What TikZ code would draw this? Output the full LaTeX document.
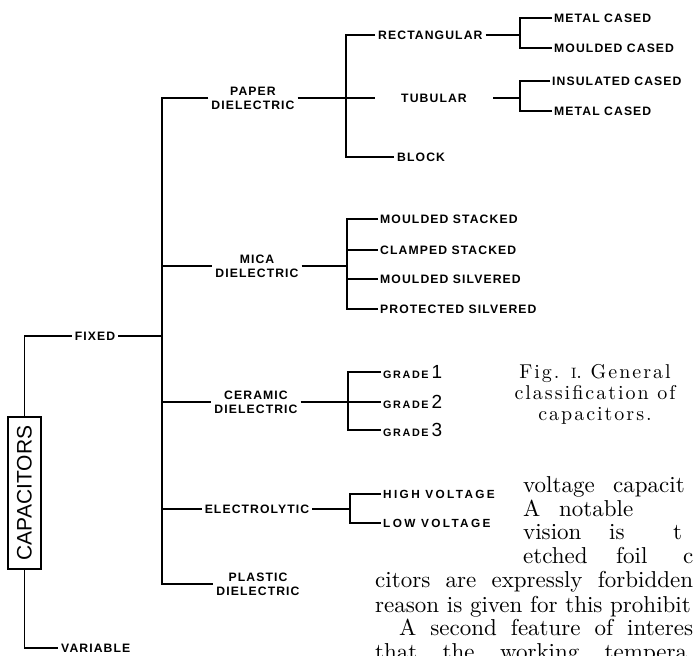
\documentclass[tikz,border=0pt]{standalone}
\usepackage{fontspec}
\usepackage{tikz}
\usetikzlibrary{positioning, calc}
\newfontfamily\diafont[LetterSpace=9]{Liberation Sans}
\newfontfamily\gradefont[LetterSpace=15]{Liberation Sans}
\newfontfamily\voltfont[LetterSpace=20]{Liberation Sans}
\newfontfamily\plainsans{Liberation Sans}
\newfontfamily\bodyfont[Extension=.otf]{lmroman10-regular}
\newfontfamily\capfont[Extension=.otf, LetterSpace=10]{lmroman10-regular}
\newcommand{\gradenum}[1]{\hspace{3pt}{\plainsans\mdseries\fontsize{19}{19}\selectfont #1}}
\tikzset{
    capbox/.style={draw, line width=1.8pt, rotate=90, minimum width=152pt, minimum height=33pt, inner sep=0pt, font=\plainsans\fontsize{21}{21}\selectfont},
    classlabel/.style={inner sep=3pt, align=center, font=\diafont\bfseries\fontsize{12.2}{14}\selectfont},
    leaf/.style={anchor=west, inner sep=2pt, font=\diafont\bfseries\fontsize{12.2}{14}\selectfont},
    gradeleaf/.style={anchor=west, inner sep=2pt, font=\gradefont\bfseries\fontsize{10.8}{12}\selectfont},
    voltleaf/.style={anchor=west, inner sep=2pt, font=\voltfont\bfseries\fontsize{11.8}{12}\selectfont},
    branch/.style={line width=1.9pt},
    bodytext/.style={anchor=base west, inner sep=0pt, font=\bodyfont\fontsize{23}{24}\selectfont},
    caption/.style={align=center, inner sep=0pt, font=\capfont\fontsize{20}{21}\selectfont},
}

\begin{document}
\begin{tikzpicture}[x=1pt, y=-1pt]
        \useasboundingbox (0,0) rectangle (695,655);

        % Nodes
        \node[capbox] (cap) at (24.5,493) {CAPACITORS};
        \node[classlabel] (fixed) at (95,336) {FIXED};
        \node[classlabel, anchor=west] (variable) at (58,648) {VARIABLE};
        \coordinate (trunk) at (162,336);

        \node[classlabel] (paper) at (253,98) {PAPER\\DIELECTRIC};
        \node[classlabel] (mica) at (257,266) {MICA\\DIELECTRIC};
        \node[classlabel] (ceramic) at (256,402) {CERAMIC\\DIELECTRIC};
        \node[classlabel] (electro) at (257,509) {ELECTROLYTIC};
        \node[classlabel] (plastic) at (258,584) {PLASTIC\\DIELECTRIC};

        % paper
        \coordinate (pbr) at (346,98);
        \coordinate (tubin) at (375,98);
        \node[classlabel, anchor=west] (rect) at (375,35) {RECTANGULAR};
        \node[classlabel] (tubular) at (434,98) {TUBULAR};
        \coordinate (tubout) at (493,98);
        \node[classlabel, anchor=west] (block) at (394,157) {BLOCK};
        \coordinate (rbr) at (520,35);
        \coordinate (tbr) at (520,98);
        \node[leaf] (metalA) at (552,18) {METAL CASED};
        \node[leaf] (mouldA) at (552,48) {MOULDED CASED};
        \node[leaf] (insul) at (550,81) {INSULATED CASED};
        \node[leaf] (metalB) at (552,111) {METAL CASED};

        % mica
        \coordinate (mbr) at (347,266);
        \node[leaf] (mstack) at (378,219) {MOULDED STACKED};
        \node[leaf] (cstack) at (378,250) {CLAMPED STACKED};
        \node[leaf] (msilv) at (378,279) {MOULDED SILVERED};
        \node[leaf] (psilv) at (378,309) {PROTECTED SILVERED};

        % ceramic
        \coordinate (cbr) at (348,402);
        \node[gradeleaf] (gradeA) at (381,372) {GRADE\gradenum{1}};
        \node[gradeleaf] (gradeB) at (381,402) {GRADE\gradenum{2}};
        \node[gradeleaf] (gradeC) at (381,430) {GRADE\gradenum{3}};

        % electrolytic
        \coordinate (ebr) at (350,509);
        \node[voltleaf] (highv) at (381,494) {HIGH VOLTAGE};
        \node[voltleaf] (lowv) at (381,523) {LOW VOLTAGE};

        % caption and text
        \node[caption] (fig) at (595,394) {Fig. {\fontsize{15}{15}\selectfont I}. General\\classification of\\capacitors.};
        \node[bodytext] (wa) at (523,492) {voltage};
        \node[bodytext] (wb) at (613,492) {capacit};
        \node[bodytext] (wc) at (523,516) {A};
        \node[bodytext] (wd) at (559,516) {notable};
        \node[bodytext] (we) at (523,539) {vision};
        \node[bodytext] (wf) at (609,539) {is};
        \node[bodytext] (wg) at (673,539) {t};
        \node[bodytext] (wh) at (523,563) {etched};
        \node[bodytext] (wi) at (616,563) {foil};
        \node[bodytext] (wj) at (683,563) {c};
        \node[bodytext] (la) at (375,587) {\makebox[318pt][s]{citors are expressly forbidden}};
        \node[bodytext] (lb) at (375,612) {reason is given for this prohibit};
        \node[bodytext] (lc) at (399,635) {\makebox[294pt][s]{A second feature of interes}};
        \node[bodytext] (ld) at (375,659) {\makebox[312pt][s]{that the working tempera}};

        % Connections
        \draw[branch] (cap.east) |- (fixed.west);
        \draw[branch] (cap.west) |- (variable.west);
        \draw[branch] (fixed.east) -- (trunk);
        \draw[branch] (paper.west) -| (trunk |- plastic.west) -- (plastic.west);
        \draw[branch] (trunk |- mica.west) -- (mica.west);
        \draw[branch] (trunk |- ceramic.west) -- (ceramic.west);
        \draw[branch] (trunk |- electro.west) -- (electro.west);

        \draw[branch] (paper.east) -- (tubin);
        \draw[branch] (rect.west) -| (pbr) |- (block.west);
        \draw[branch] (rect.east) -- (rbr);
        \draw[branch] (metalA.west) -| (rbr) |- (mouldA.west);
        \draw[branch] (tubout) -- (tbr);
        \draw[branch] (insul.west) -| (tbr) |- (metalB.west);

        \draw[branch] (mica.east) -- (mbr);
        \draw[branch] (mstack.west) -| (mbr) |- (psilv.west);
        \draw[branch] (mbr |- cstack.west) -- (cstack.west);
        \draw[branch] (mbr |- msilv.west) -- (msilv.west);

        \draw[branch] (ceramic.east) -- (gradeB.west);
        \draw[branch] (gradeA.west) -| (cbr) |- (gradeC.west);

        \draw[branch] (electro.east) -- (ebr);
        \draw[branch] (highv.west) -| (ebr) |- (lowv.west);
\end{tikzpicture}
\end{document}
